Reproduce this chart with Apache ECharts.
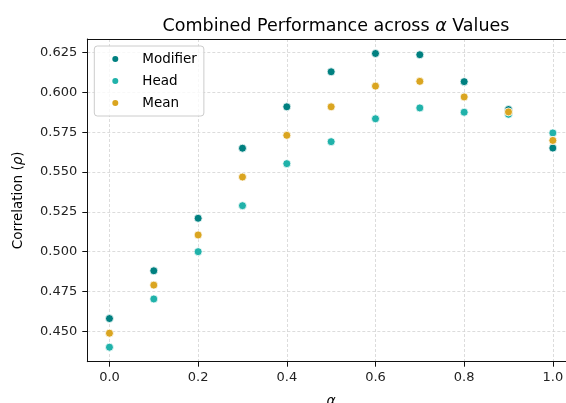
<!DOCTYPE html>
<html>
<head>
<meta charset="utf-8">
<script src="https://cdn.jsdelivr.net/npm/echarts@6/dist/echarts.min.js"></script>
<style>
html,body{margin:0;padding:0;background:#fff;}
#chart{width:566px;height:403px;}
</style>
</head>
<body>
<div id="chart"></div>
<script>
// ---- data ----
const alphas = [0.0, 0.1, 0.2, 0.3, 0.4, 0.5, 0.6, 0.7, 0.8, 0.9, 1.0];
const modifierVals = [0.458, 0.488, 0.521, 0.565, 0.591, 0.613, 0.6245, 0.6237, 0.6068, 0.5893, 0.5651];
const headVals     = [0.440, 0.4703, 0.500, 0.5289, 0.5553, 0.5691, 0.5835, 0.5903, 0.5876, 0.5863, 0.5746];
const meanVals     = [0.4488, 0.4790, 0.5105, 0.5469, 0.5731, 0.5910, 0.6040, 0.6070, 0.5972, 0.5878, 0.5699];
const xTicks = [0.0, 0.2, 0.4, 0.6, 0.8, 1.0];
const yTicks = [0.450, 0.475, 0.500, 0.525, 0.550, 0.575, 0.600, 0.625];
const seriesNames = ['Modifier', 'Head', 'Mean'];
const seriesColors = ['#008080', '#20B2AA', '#DAA520'];

const FONT = 'DejaVu Sans';
const pairs = vals => alphas.map((a, i) => [a, vals[i]]);
const allVals = [modifierVals, headVals, meanVals];

const chart = echarts.init(document.getElementById('chart'), null, {renderer: 'canvas'});
const gridLine = {show: true, lineStyle: {color: '#d3d3d3', width: 0.8, type: [3, 2]}};
const axisLineStyle = {show: true, onZero: false, lineStyle: {color: '#111', width: 1}};

chart.setOption({
  animation: false,
  backgroundColor: '#fff',
  title: {
    text: 'Combined Performance across {a|α} Values',
    left: 331, textAlign: 'center', top: 12,
    textStyle: {
      fontFamily: FONT, fontSize: 17.5, fontWeight: 'normal', color: '#000',
      rich: {a: {fontFamily: FONT, fontSize: 17.5, fontStyle: 'italic', color: '#000'}}
    }
  },
  grid: {left: 87.3, width: 487.7, top: 39, height: 322.7, containLabel: false, outerBoundsMode: 'none'},
  legend: {
    orient: 'vertical', left: 94.3, top: 46,
    padding: [6, 7, 6, 16], itemGap: 8,
    itemWidth: 8, itemHeight: 8, icon: 'circle',
    backgroundColor: 'rgba(255,255,255,0.8)',
    borderColor: '#cccccc', borderWidth: 1, borderRadius: 3,
    textStyle: {fontFamily: FONT, fontSize: 13.5, color: '#000', padding: [0, 0, 0, 18]},
    data: seriesNames
  },
  xAxis: [{
    type: 'value', min: -0.05, max: 1.05, interval: 0.2,
    name: 'α', nameLocation: 'middle', nameGap: 33,
    nameTextStyle: {fontFamily: FONT, fontSize: 14, fontStyle: 'italic', color: '#000'},
    axisLine: axisLineStyle,
    axisTick: {show: true, length: 5, inside: false, lineStyle: {color: '#111'}, customValues: xTicks},
    axisLabel: {fontFamily: FONT, fontSize: 13, color: '#222', margin: 9,
      customValues: xTicks,
      formatter: v => v.toFixed(1)},
    splitLine: gridLine
  }, {
    type: 'value', position: 'top', min: -0.05, max: 1.05,
    axisLine: axisLineStyle, axisTick: {show: false}, axisLabel: {show: false}, splitLine: {show: false}
  }],
  yAxis: [{
    type: 'value', min: 0.4309, max: 0.6336, interval: 0.025,
    name: 'Correlation ({r|ρ})', nameLocation: 'middle', nameGap: 62, nameRotate: 90,
    nameTextStyle: {fontFamily: FONT, fontSize: 13.5, color: '#000',
      rich: {r: {fontFamily: FONT, fontSize: 13.5, fontStyle: 'italic', color: '#000'}}},
    axisLine: axisLineStyle,
    axisTick: {show: true, length: 5, lineStyle: {color: '#111'}, customValues: yTicks},
    axisLabel: {fontFamily: FONT, fontSize: 13, color: '#222', margin: 10,
      customValues: yTicks,
      formatter: v => v.toFixed(3)},
    splitLine: gridLine
  }],
  series: seriesNames.map((n, i) => ({
    name: n, type: 'scatter', xAxisIndex: 0, yAxisIndex: 0,
    symbol: 'circle', symbolSize: 8,
    itemStyle: {color: seriesColors[i], borderColor: '#fff', borderWidth: 0.8, opacity: 1},
    data: pairs(allVals[i])
  }))
});
</script>
</body>
</html>
